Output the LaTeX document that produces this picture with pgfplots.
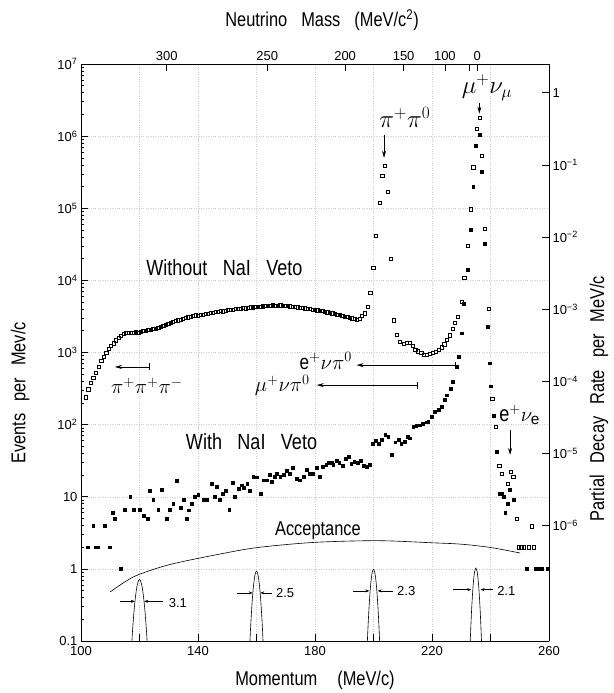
\documentclass[border=0pt]{standalone}
\usepackage{fontspec}
\setmainfont{Liberation Sans}
\newfontfamily\cond{Liberation Sans}[FakeStretch=0.82]
\usepackage{pgfplots}
\pgfplotsset{compat=1.18}
\usetikzlibrary{arrows.meta,calc}

\begin{document}
\begin{tikzpicture}
\pgfplotsset{
  every axis/.append style={
    scale only axis, width=468pt, height=577pt,
    xmin=100, xmax=260,
    tick align=inside,
    tick style={black, line width=0.6pt},
    axis line style={line width=0.8pt},
    tick label style={font=\fontsize{13}{13}\selectfont},
    label style={font=\cond\fontsize{20}{20}\selectfont, anchor=center},
  },
}
% momentum axis (bottom / left)
\begin{axis}[
  name=main,
  ymode=log, ymin=0.1, ymax=1e7,
  axis x line*=bottom, axis y line*=left,
  xtick={100,120,...,260},
  xticklabels={100,,140,,180,,220,,260},
  ytick={0.1,1,10,100,1e3,1e4,1e5,1e6,1e7},
  yticklabels={0.1,1,10,10\textsuperscript{2},10\textsuperscript{3},10\textsuperscript{4},10\textsuperscript{5},10\textsuperscript{6},10\textsuperscript{7}},
  xticklabel style={yshift=-2pt},
  major tick length=7pt, minor tick length=3.5pt,
  grid=major, grid style={dotted, gray!40, line width=0.4pt},
  xlabel={Momentum\hspace{1em}(MeV/c)},
  ylabel={Events\hspace{0.6em}per\hspace{0.6em}Mev/c},
  xlabel style={at={(axis description cs:0.5,-0.068)}},
  ylabel style={at={(axis description cs:-0.13,0.43)}},
]
% Without NaI veto (open squares)
\addplot[only marks, mark=square, mark size=1.6pt, mark options={line width=0.5pt}] coordinates {
(101.5,240)(102.5,310)(103.4,380)(104.2,450)(105.1,530)(106,640)(106.9,760)(107.7,880)(108.6,1000)(109.4,1120)
(110.3,1250)(111.1,1340)(112,1480)(112.8,1600)(113.7,1720)(114.5,1840)(115.4,1870)(116.2,1880)(117.1,1860)(117.9,1900)
(118.8,1920)(119.6,1900)(120.5,1950)(121.3,1990)(122.2,2020)(123,2050)(123.9,2080)(124.7,2130)(125.6,2160)(126.4,2220)
(127.3,2280)(128.1,2330)(129,2420)(129.8,2500)(130.7,2580)(131.5,2670)(132.4,2730)(133.2,2800)(134.1,2870)(134.9,2950)
(135.8,3030)(136.6,3080)(137.5,3150)(138.3,3220)(139.2,3280)(140,3250)(140.9,3320)(141.7,3380)(142.6,3420)(143.4,3480)
(144.3,3550)(145.1,3580)(146,3640)(146.8,3700)(147.7,3760)(148.5,3730)(149.4,3800)(150.2,3900)(151.1,3880)(151.9,3960)
(152.8,4020)(153.6,4000)(154.5,4080)(155.3,4120)(156.2,4100)(157,4180)(157.9,4230)(158.7,4220)(159.6,4280)(160.4,4330)
(161.3,4310)(162.1,4380)(163,4420)(163.8,4400)(164.7,4470)(165.5,4540)(166.4,4500)(167.2,4480)(168.1,4520)(168.9,4460)
(169.8,4420)(170.6,4400)(171.5,4380)(172.3,4320)(173.2,4280)(174,4230)(174.9,4180)(175.7,4150)(176.6,4100)(177.4,4050)
(178.3,4000)(179.1,3950)(180,3900)(180.8,3860)(181.7,3800)(182.5,3760)(183.4,3700)(184.2,3620)(185.1,3560)(185.9,3500)
(186.8,3440)(187.6,3380)(188.5,3300)(189.3,3240)(190.2,3160)(191,3100)(191.9,3030)(192.7,2980)(193.6,2920)(194.4,2870)
(195.3,2950)(196.1,3200)(197,3500)(197.9,4300)(198.9,6800)(199.9,1.5e4)(200.9,4.2e4)(202,1.2e5)(203,2.8e5)(203.8,3.85e5)
(205,1.7e5)(206,2.0e4)(206.8,2800)(207.9,1750)(209.1,1400)(210.3,1330)(211.4,1380)(212.5,1350)(213.4,1250)(214.3,1100)
(215.2,1040)(216.3,980)(217.3,930)(218.3,920)(219.3,950)(220.3,990)(221.3,1020)(222.3,1080)(223.3,1180)(224.2,1300)
(225.1,1500)(226.1,1740)(227,2140)(227.9,2570)(228.8,3100)(230.2,5000)(231,1.1e4)(232.2,3e4)(233.2,9.7e4)(234.1,3.7e5)
(235.3,1.28e6)(236.2,1.8e6)(237.1,5.3e5)(238.1,5.2e4)(239.3,4000)(240.6,230)(241.9,94)(243,27)(243.8,21)(244.6,10)
(245.9,15)(247,22)(247.8,19)(248.9,5)(249.6,2)(250.5,2)(251.3,2)(253,2)(254.1,3.9)(254.9,2)
};
% With NaI veto (filled squares)
\addplot[only marks, mark=square*, mark size=1.4pt] coordinates {
(102.4,2)(104.2,4)(105,2)(105.8,2)(108.2,4)(109.7,2)(110.8,6)(111.6,5)(113.5,1)(115,6.6)
(116.8,10)(117.9,6.6)(120.2,6.6)(121.3,5.5)(122.7,5)(123.6,12)(124.7,9)(126.4,6.6)(127.6,12.6)(129.3,5)
(130.4,6.6)(131.5,8)(132.7,16.6)(134,7)(135,9)(136.1,5)(136.7,6.5)(137.8,8)(139,10)(140.1,10.7)
(141.8,9)(143,9)(144.7,15)(145.8,10)(146.4,13.8)(147.5,9)(148.5,11)(149.6,12)(150.7,6.6)(151.9,15.6)
(152.6,10)(153.8,13)(154.9,14.5)(155.7,13.3)(156.8,15)(157.8,12)(158.9,19)(160,18.7)(161.5,11)(162.3,17)
(163.5,17)(164.4,20)(165.2,16)(166.1,19)(167,21)(168.1,19)(169.2,20)(170.3,23)(171.4,21)(172.4,25)
(173.7,18)(174.8,17)(176,19)(177.1,24)(178.3,21)(179.2,21)(180.6,25)(181.7,19)(182.7,26)(183.8,28)
(184.7,30)(185.6,30)(186.2,28)(187.5,32)(188.3,30)(189.4,27)(190.5,34)(191.5,36)(192.4,29)(193.4,31)
(194.6,30)(195.6,32)(196.7,27)(197.8,26)(198.8,28)(199.7,55)(200.8,60)(201.9,55)(202.9,62)(204,72)
(205,68)(206.2,38)(207.4,57)(208.5,62)(209.5,55)(210.6,58)(211.6,68)(212.5,65)(213.6,94)(214.6,96)
(215.9,98)(216.9,102)(218,108)(218.7,110)(219.9,129)(221,150)(222.2,160)(223.3,178)(224.4,219)(225,256)
(226.4,318)(227.1,390)(228.4,630)(229,870)(230.1,1850)(230.7,4800)(232.2,1.4e4)(233.2,5.1e4)(234.1,2.0e5)(235,7.4e5)
(236.2,1.04e6)(237.1,3.2e5)(238.1,3.2e4)(239,2300)(239.8,710)(240.2,340)(241,134)(242.1,42)(243.2,11)(243.8,11)
(244.6,10)(245,6)(245.9,8)(246.6,12.6)(247.8,9)(252.4,1)(255.5,1)(256.3,1)(257.6,1)(259.4,1)
};
% acceptance
\addplot[smooth, line width=0.6pt] coordinates {
(110,0.48)(115,0.66)(119.6,0.83)(130.4,1.15)(147.3,1.6)(160.5,1.98)(179.8,2.33)(201.4,2.46)(220,2.3)(230,2.2)(240,1.98)(250.1,1.66)
};
% resolution functions
\addplot[smooth, line width=0.6pt] coordinates {
(117,0.053)(117.5,0.117)(118,0.224)(118.5,0.371)(119,0.532)(119.5,0.66)(120,0.71)(120.5,0.66)(121,0.532)(121.5,0.371)(122,0.224)(122.5,0.117)(123,0.053)};
\addplot[smooth, line width=0.6pt] coordinates {
(157.5,0.058)(158,0.158)(158.5,0.343)(159,0.597)(159.5,0.832)(160,0.93)(160.5,0.832)(161,0.597)(161.5,0.343)(162,0.158)(162.5,0.058)};
\addplot[smooth, line width=0.6pt] coordinates {
(197.5,0.037)(198,0.122)(198.5,0.305)(199,0.586)(199.5,0.868)(200,0.99)(200.5,0.868)(201,0.586)(201.5,0.305)(202,0.122)(202.5,0.037)};
\addplot[smooth, line width=0.6pt] coordinates {
(232.5,0.02)(233,0.083)(233.5,0.25)(234,0.549)(234.5,0.88)(235,1.03)(235.5,0.88)(236,0.549)(236.5,0.25)(237,0.083)(237.5,0.02)};

% FWHM arrows
\tikzset{fw/.style={-{Stealth[length=4pt,width=3pt]}, line width=0.5pt}}
\draw[fw] (axis cs:113.3,0.355) -- (axis cs:118.4,0.355);
\draw[fw] (axis cs:128,0.355) -- (axis cs:121.6,0.355);
\node[anchor=west, font=\fontsize{13}{13}\selectfont] at (axis cs:128.8,0.34) {3.1};
\draw[fw] (axis cs:153.3,0.465) -- (axis cs:158.7,0.465);
\draw[fw] (axis cs:165.3,0.465) -- (axis cs:161.3,0.465);
\node[anchor=west, font=\fontsize{13}{13}\selectfont] at (axis cs:165.5,0.46) {2.5};
\draw[fw] (axis cs:193,0.495) -- (axis cs:198.6,0.495);
\draw[fw] (axis cs:206.8,0.495) -- (axis cs:201.4,0.495);
\node[anchor=west, font=\fontsize{13}{13}\selectfont] at (axis cs:206.9,0.49) {2.3};
\draw[fw] (axis cs:227.3,0.515) -- (axis cs:233.4,0.515);
\draw[fw] (axis cs:241,0.515) -- (axis cs:236.6,0.515);
\node[anchor=west, font=\fontsize{13}{13}\selectfont] at (axis cs:241.1,0.5) {2.1};

% text labels
\node[font=\cond\fontsize{22}{22}\selectfont] at (axis cs:149,1.5e4) {Without\hspace{0.7em}NaI\hspace{0.7em}Veto};
\node[font=\cond\fontsize{22}{22}\selectfont] at (axis cs:158.3,58) {With\hspace{0.7em}NaI\hspace{0.7em}Veto};
\node[font=\cond\fontsize{20}{20}\selectfont] at (axis cs:181,3.4) {Acceptance};

% decay-mode labels and arrows
\tikzset{la/.style={-{Stealth[length=7pt,width=4pt]}, line width=0.6pt}}
\node[font=\fontsize{24}{24}\selectfont] at (axis cs:210.7,1.8e6) {$\pi^+\pi^0$};
\draw[la] (axis cs:203.6,1.05e6) -- (axis cs:203.6,5e5);
\node[font=\fontsize{24}{24}\selectfont] at (axis cs:238.8,4.7e6) {$\mu^+\nu_\mu$};
\draw[la] (axis cs:236.2,2.9e6) -- (axis cs:236.2,2.05e6);
\node[font=\fontsize{22}{22}\selectfont] at (axis cs:250,135) {{\cond e}$^+\nu_{\mathrm{e}}$};
\draw[la] (axis cs:246.7,83) -- (axis cs:246.7,38);
\node[font=\fontsize{22}{22}\selectfont] at (axis cs:122.5,345) {$\pi^+\pi^+\pi^-$};
\draw[{Bar[width=7pt]}-{Stealth[length=7pt,width=4pt]}, line width=0.6pt] (axis cs:123.6,630) -- (axis cs:111.6,630);
\node[anchor=east, font=\fontsize{21}{21}\selectfont] at (axis cs:193.8,760) {{\cond e}$^+\nu\pi^0$};
\draw[{Bar[width=7pt]}-{Stealth[length=7pt,width=4pt]}, line width=0.6pt] (axis cs:228.2,668) -- (axis cs:194.2,668);
\node[anchor=east, font=\fontsize{22}{22}\selectfont] at (axis cs:179.4,350) {$\mu^+\nu\pi^0$};
\draw[{Bar[width=7pt]}-{Stealth[length=7pt,width=4pt]}, line width=0.6pt] (axis cs:215,353) -- (axis cs:180.6,353);
\end{axis}

% neutrino mass axis (top) and partial decay rate axis (right)
\begin{axis}[
  ymode=log, ymin=2.5e-8, ymax=2.5,
  axis x line*=top, axis y line*=right,
  xtick={129.3,163.7,190.3,210.3,224.4,232.8,235.5},
  xticklabels={300,250,200,150,100,,0},
  ytick={1e-6,1e-5,1e-4,1e-3,1e-2,1e-1,1},
  yticklabels={10\textsuperscript{−6},10\textsuperscript{−5},10\textsuperscript{−4},10\textsuperscript{−3},10\textsuperscript{−2},10\textsuperscript{−1},1},
  yminorticks=false,
  major tick length=7pt,
  xlabel={Neutrino\hspace{0.7em}Mass\hspace{0.7em}(MeV/c\textsuperscript{2})},
  ylabel={Partial\hspace{0.6em}Decay\hspace{0.6em}Rate\hspace{0.6em}per\hspace{0.6em}MeV/c},
  xlabel style={at={(axis description cs:0.515,1.076)}},
  ylabel style={at={(axis description cs:1.107,0.42)}},
]
\end{axis}

\pgfresetboundingbox
\path ($(main.south west)+(-81pt,-52pt)$) rectangle ($(main.north east)+(64pt,64pt)$);
\end{tikzpicture}
\end{document}
